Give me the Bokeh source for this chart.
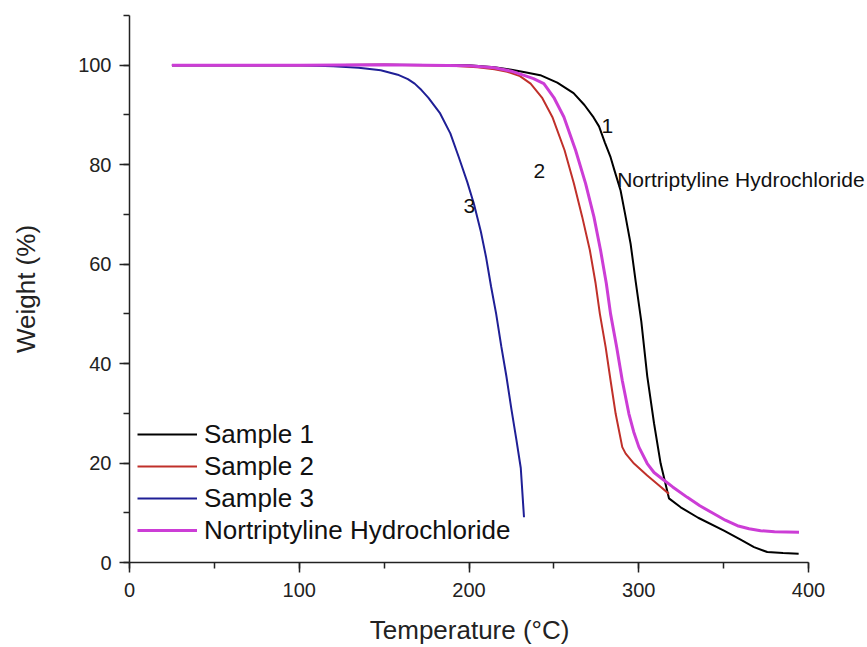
from bokeh.plotting import figure
from bokeh.models import Range1d, SingleIntervalTicker, Label, Legend, LegendItem
from bokeh.embed import file_html
from bokeh.resources import INLINE

# ---- data ----
s1_T = [25, 100, 150, 200, 215, 225, 233, 242, 252, 261.6, 268, 273.4, 276.6, 280, 283.4, 286, 289.3,
        292, 295.2, 298.2, 301.5, 305, 309, 312.9, 317.8, 324.7, 335, 350.2, 360, 367.9, 375.7, 385, 394.2]
s1_W = [100, 100, 100.1, 100, 99.6, 99.1, 98.6, 98.0, 96.5, 94.4, 92, 89.5, 87.7, 84.5, 81.5, 78.5, 74.8,
        70, 64.1, 56.5, 48.5, 37.5, 28, 19.9, 12.9, 11.1, 9, 6.4, 4.6, 3.1, 2.1, 1.9, 1.75]

s2_T = [25, 100, 150, 190, 205, 215, 222.6, 230, 236.3, 243, 249.1, 256.3, 261.8, 266.7, 271.2, 274.6,
        277.1, 280.5, 283.4, 286.4, 290.3, 292.3, 297.2, 305, 312, 317.8]
s2_W = [100, 100, 100.1, 99.9, 99.6, 99.2, 98.7, 97.8, 96.3, 93.5, 89.6, 82.9, 76.2, 69.5, 62.8, 56.1,
        50.0, 43.3, 36.6, 29.9, 23.2, 21.9, 19.9, 17.5, 15.5, 13.8]

s3_T = [25, 60, 100, 120, 135, 148, 158, 164, 168, 172, 176, 183, 189, 194, 199, 203, 207, 210, 213,
        216, 219, 222, 225, 228, 230.5, 232.4]
s3_W = [100, 100, 100, 99.8, 99.5, 99.0, 98.1, 97.2, 96.3, 95.0, 93.5, 90.3, 86.3, 81.5, 76.5, 72, 66.5,
        61.5, 55.5, 50, 43.5, 37.5, 30.8, 24.5, 19, 9.1]

nh_T = [25, 100, 150, 200, 215, 225, 232, 238, 244.1, 250, 255.9, 262.8, 268.7, 273.6, 277.5, 280.9,
        283.4, 287, 290.3, 294.2, 297, 300.1, 305, 309, 313.9, 320, 328.6, 336, 344.3, 351, 358.1, 365,
        371.8, 380, 394.4]
nh_W = [100, 100, 100.1, 99.9, 99.5, 98.8, 98.0, 97.3, 96.3, 93.5, 89.6, 82.9, 76.2, 69.5, 62.8, 56.1,
        50, 43.3, 36.6, 29.9, 26.3, 23.2, 19.9, 18.1, 16.8, 15.2, 13.1, 11.4, 9.8, 8.5, 7.4, 6.8,
        6.4, 6.2, 6.1]

series_names = ["Sample 1", "Sample 2", "Sample 3", "Nortriptyline Hydrochloride"]
series_colors = ["#000000", "#c0302a", "#1f1f96", "#cc3dd6"]

annot_texts = ["1", "2", "3"]
annot_T = [281.5, 241.4, 200.2]
annot_W = [87.7, 78.7, 71.7]
name_label = "Nortriptyline Hydrochloride"
name_T, name_W = 287.3, 77.0

x_title = "Temperature (°C)"
y_title = "Weight (%)"

FONT = "Liberation Sans"

W_PX, H_PX = 867, 647
LEFT, TOP, BOTTOM = 129, 15, 85
X_END = 400 * (W_PX - LEFT) / (808 - 129)

p = figure(width=W_PX, height=H_PX, output_backend="svg", toolbar_location=None,
           x_range=Range1d(0, X_END), y_range=Range1d(0, 110),
           min_border_left=LEFT, min_border_right=0, min_border_top=TOP, min_border_bottom=BOTTOM)
p.outline_line_color = None
p.xgrid.grid_line_color = None
p.ygrid.grid_line_color = None
p.background_fill_color = "white"
p.border_fill_color = "white"

p.xaxis.ticker = SingleIntervalTicker(interval=100, num_minor_ticks=2)
p.yaxis.ticker = SingleIntervalTicker(interval=20, num_minor_ticks=2)
p.xaxis.bounds = (0, 400)
for ax in (p.xaxis, p.yaxis):
    ax.axis_line_width = 1.5
    ax.axis_line_color = "#222222"
    ax.major_tick_line_color = "#222222"
    ax.minor_tick_line_color = "#222222"
    ax.major_tick_line_width = 1.5
    ax.minor_tick_line_width = 1.5
    ax.major_tick_in = 0
    ax.major_tick_out = 10
    ax.minor_tick_in = 0
    ax.minor_tick_out = 6
    ax.major_label_text_font = FONT
    ax.major_label_text_font_size = "20px"
    ax.major_label_text_color = "#222222"
    ax.axis_label_text_font = FONT
    ax.axis_label_text_font_size = "26px"
    ax.axis_label_text_font_style = "normal"
    ax.axis_label_text_color = "#222222"

# the frame reaches past 400 (room for the in-plot caption); pad the title so it centres on 0-400
p.xaxis.axis_label = x_title + "\u00a0" * 8
p.yaxis.axis_label = y_title
p.xaxis.major_label_standoff = 10
p.yaxis.major_label_standoff = 8
p.xaxis.axis_label_standoff = 15
p.yaxis.axis_label_standoff = 34

r1 = p.line(s1_T, s1_W, line_color=series_colors[0], line_width=2)
r2 = p.line(s2_T, s2_W, line_color=series_colors[1], line_width=2)
r3 = p.line(s3_T, s3_W, line_color=series_colors[2], line_width=2)
r4 = p.line(nh_T, nh_W, line_color=series_colors[3], line_width=3)

legend = Legend(items=[LegendItem(label=n, renderers=[r]) for n, r in zip(series_names, [r1, r2, r3, r4])],
                location=(8, 16), padding=0, margin=0, spacing=0,
                glyph_width=60, glyph_height=32, label_height=32, label_standoff=7,
                label_text_font=FONT, label_text_font_size="26px", label_text_color="#111111",
                border_line_color=None, background_fill_alpha=0)
p.add_layout(legend)

for t, x, y in zip(annot_texts, annot_T, annot_W):
    p.add_layout(Label(x=x, y=y, text=t, text_font=FONT, text_font_size="21px",
                       text_align="center", text_baseline="middle", text_color="#111111"))
p.add_layout(Label(x=name_T, y=name_W, text=name_label, text_font=FONT, text_font_size="21px",
                   text_align="left", text_baseline="middle", text_color="#111111"))

open("out.html", "w").write(file_html(p, INLINE))
